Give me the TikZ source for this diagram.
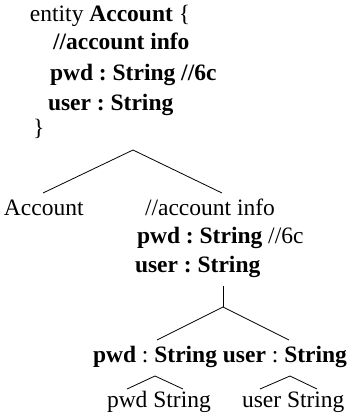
\documentclass[tikz,border=0pt]{standalone}
\usepackage{fontspec}
\setmainfont{Liberation Serif}
\frenchspacing
\begin{document}
\begin{tikzpicture}[x=1pt,y=-1pt,
  txt/.style={anchor=base west,inner sep=0pt,outer sep=0pt,font=\fontsize{23.5}{28}\selectfont\frenchspacing},
  edge/.style={draw=black,line width=0.8pt}]
\useasboundingbox (0,0) rectangle (353,418);
% top block
\node[txt] (t1) at (30,21) {entity \textbf{Account} \{};
\node[txt] (t2) at (53,49) {\textbf{//account info}};
\node[txt] (t3) at (50,80) {\textbf{pwd : String //6c}};
\node[txt] (t4) at (48,110) {\textbf{user : String}};
\node[txt] (t5) at (33,135) {\}};
% first level
\node[txt] (a1) at (4,215) {Account};
\node[txt] (b1) at (145,215) {//account info};
\node[txt] (b2) at (137,243) {\textbf{pwd : String} //6c};
\node[txt] (b3) at (135,272) {\textbf{user : String}};
% second level
\node[txt] (c1) at (93,362) {\textbf{pwd} : \textbf{String} \textbf{user} : \textbf{String}};
% leaves
\node[txt] (d1) at (107,407) {pwd String};
\node[txt] (d2) at (242,407) {user String};
% tree coordinates
\coordinate (p0) at (133,150);
\coordinate (p0l) at (43,193);
\coordinate (p0r) at (222,193);
\coordinate (q0) at (223,286);
\coordinate (q1) at (223,307);
\coordinate (q1l) at (157,340);
\coordinate (q1r) at (289,340);
\coordinate (r0) at (155,376);
\coordinate (r0l) at (127,389);
\coordinate (r0r) at (183,389);
\coordinate (s0) at (290,376);
\coordinate (s0l) at (260,389);
\coordinate (s0r) at (317,389);
\draw[edge] (p0l) -- (p0) -- (p0r);
\draw[edge] (q0) -- (q1);
\draw[edge] (q1l) -- (q1) -- (q1r);
\draw[edge] (r0l) -- (r0) -- (r0r);
\draw[edge] (s0l) -- (s0) -- (s0r);
\end{tikzpicture}
\end{document}
